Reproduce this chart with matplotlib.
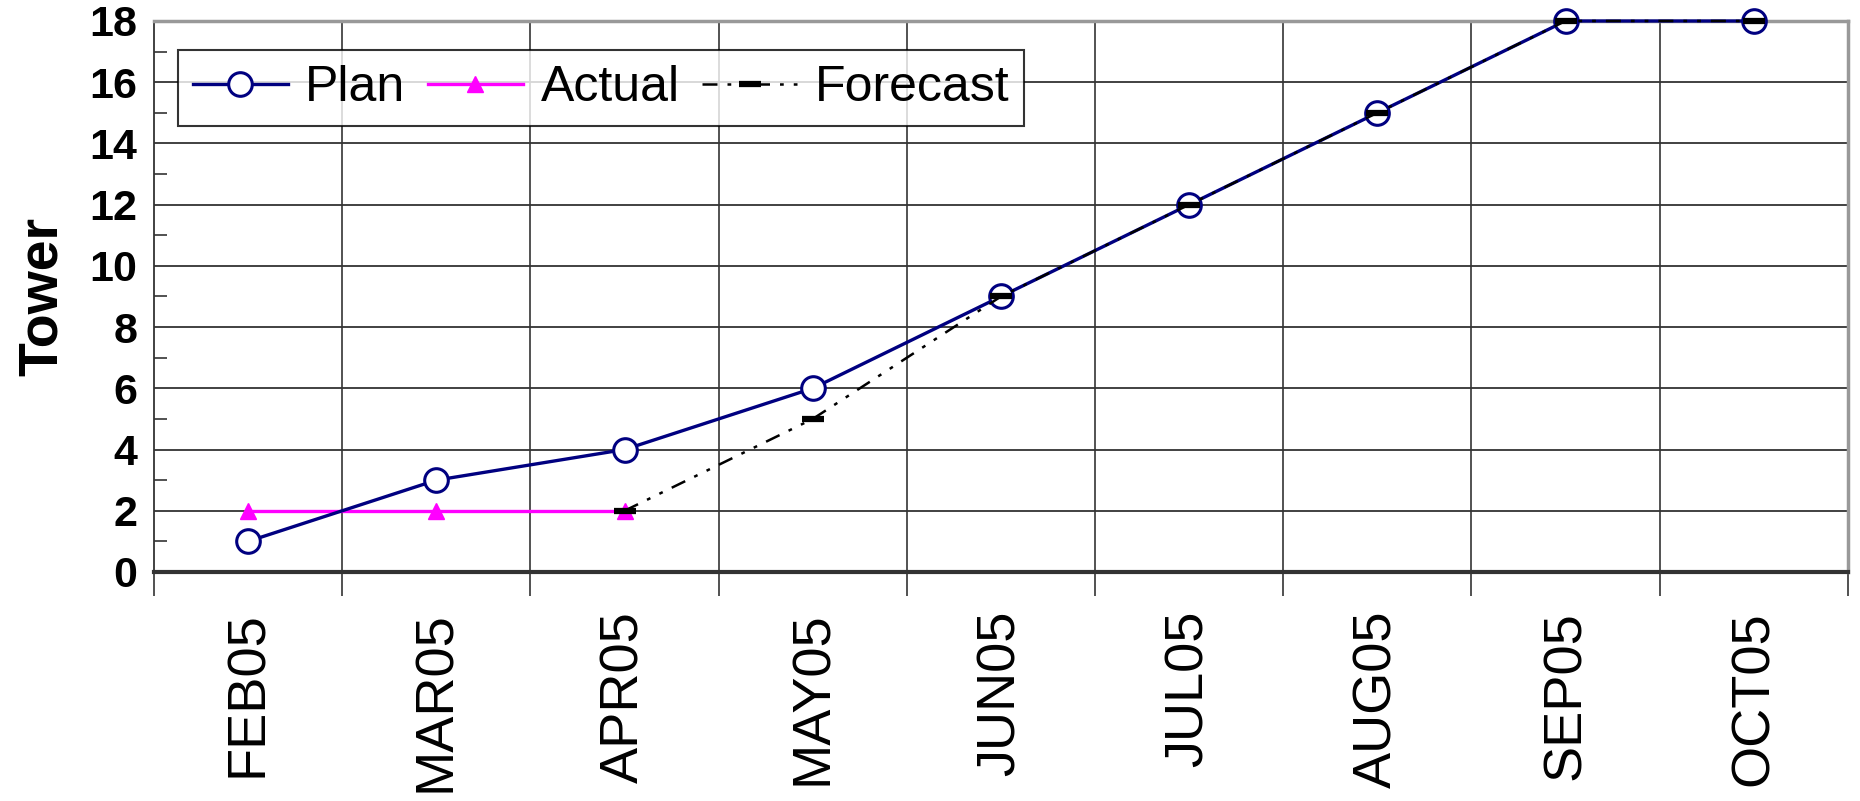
import matplotlib
matplotlib.use("Agg")
import matplotlib.pyplot as plt
import numpy as np

plt.rcParams['font.family'] = ['Liberation Sans', 'DejaVu Sans']

months = ['FEB05', 'MAR05', 'APR05', 'MAY05', 'JUN05', 'JUL05', 'AUG05', 'SEP05', 'OCT05']
plan = [1, 3, 4, 6, 9, 12, 15, 18, 18]
actual = [2, 2, 2]
forecast = [2, 5, 9, 12, 15, 18, 18]

x = np.arange(len(months))

fig = plt.figure(figsize=(18.6, 8.01), dpi=100)
ax = fig.add_axes([0.0828, 0.2859, 0.9107, 0.6879])

# grid: vertical at category boundaries, horizontal at even values
for b in np.arange(0.5, len(months) - 0.5, 1):
    ax.axvline(b, color='#444444', lw=1.3, zorder=1)
for yv in range(2, 18, 2):
    ax.axhline(yv, color='#333333', lw=1.3, zorder=1)

ax.plot(x, plan, color='#000080', lw=2.4, marker='o', ms=17, mfc='white',
        mec='#000080', mew=2.2, label='Plan', zorder=4, clip_on=False)
ax.plot(x[:3], actual, color='#FF00FF', lw=2.4, marker='^', ms=12,
        mfc='#FF00FF', mec='#FF00FF', label='Actual', zorder=3, clip_on=False)
ax.plot(x[2:], forecast, color='black', lw=1.8, dashes=(6, 4, 1.5, 4, 1.5, 4),
        marker='_', ms=16, mew=4.5, label='Forecast', zorder=5, clip_on=False)

ax.set_xlim(-0.5, len(months) - 0.5)
ax.set_ylim(0, 18)

ax.set_xticks(x)
ax.set_xticklabels(months, rotation=90, fontsize=39)
ax.tick_params(axis='x', which='major', length=0, pad=28)
ax.set_xticks(np.arange(-0.5, len(months), 1), minor=True)
ax.tick_params(axis='x', which='minor', length=17, width=1.2, color='#333333', direction='out')

ax.set_yticks(range(0, 19, 2))
ax.set_yticks(range(1, 18, 2), minor=True)
ax.set_yticklabels([str(v) for v in range(0, 19, 2)], fontsize=31, fontweight='bold')
ax.tick_params(axis='y', which='major', length=0, pad=12)
ax.tick_params(axis='y', which='minor', length=9, width=1.2, direction='in', color='#333333')

ax.set_ylabel('Tower', fontsize=40, fontweight='bold', labelpad=15)

ax.spines['bottom'].set_linewidth(3)
ax.spines['bottom'].set_color('#333333')
ax.spines['left'].set_linewidth(1.3)
ax.spines['left'].set_color('#333333')
for s in ['top', 'right']:
    ax.spines[s].set_linewidth(2.5)
    ax.spines[s].set_color('#999999')

leg = ax.legend(loc='upper left', bbox_to_anchor=(0.014, 0.947), borderaxespad=0,
                ncol=3, fontsize=36, frameon=True, fancybox=False,
                handlelength=1.9, handletextpad=0.35, columnspacing=0.45,
                borderpad=0.3)
leg.get_frame().set_edgecolor('black')
leg.get_frame().set_linewidth(1.5)
leg.set_zorder(6)

fig.savefig('out.png', dpi=100)
